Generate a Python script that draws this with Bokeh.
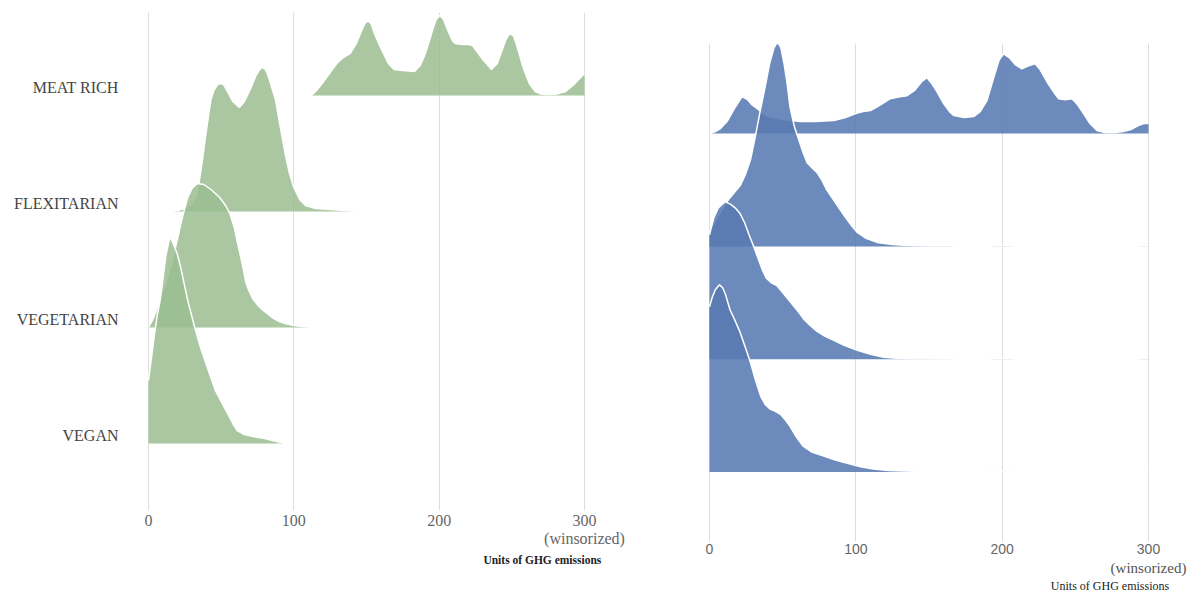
import numpy as np
from bokeh.plotting import figure
from bokeh.layouts import row
from bokeh.models import Range1d, FixedTicker, LinearAxis
from bokeh.embed import file_html
from bokeh.resources import INLINE

# ---------------------------------------------------------------------------
# Data: diet groups (bottom row first) and x-axis ticks
# ---------------------------------------------------------------------------
diets = ["VEGAN", "VEGETARIAN", "FLEXITARIAN", "MEAT RICH"]
x_ticks = [0, 100, 200, 300]
x_tick_labels = ["0", "100", "200", "300"]
winsor_note = "(winsorized)"
x_title = "Units of GHG emissions"

# Left panel (green): density of emissions per diet, relative units
green_vegan_x = [0, 2, 4, 6, 8, 10, 12, 14.7, 17, 19.7, 22, 24.5, 27, 31.8, 36, 40, 46, 50,
                 54, 58, 61, 66, 72, 80, 88, 94]
green_vegan_d = [63, 85, 108, 128, 143, 165, 188, 207, 200, 190, 177, 160, 143, 116, 95, 78, 53,
                 42, 31, 20, 13, 9, 7, 5, 2, 0]

green_vegetarian_x = [0, 3, 5, 8, 12, 16, 19.7, 22, 24, 27, 30, 33.6, 38, 43, 49, 53, 56, 59,
                      62, 65, 67, 69, 72, 76, 79, 85, 90, 94, 100, 106, 113]
green_vegetarian_d = [0, 8, 15, 30, 45, 65, 87, 102, 114, 130, 139, 144, 143, 138, 130, 122,
                      114, 100, 80, 60, 45, 37, 28, 21, 17, 10, 6, 4, 2, 1, 0]

green_flexitarian_x = [15, 20, 25, 30, 33, 35, 37, 39, 41.5, 43, 45, 47.5, 50, 52, 55, 58, 62.5,
                       66, 70, 74, 76, 78, 80, 82, 84, 87.5, 90, 94, 97, 100, 104, 108, 115, 125,
                       135, 145]
green_flexitarian_d = [0, 1, 3, 8, 16, 31, 50, 72, 98, 112, 121, 127, 128, 126, 118, 110, 104,
                       110, 122, 136, 141, 144, 143, 137, 128, 111, 90, 58, 38, 24, 12, 6, 3, 2,
                       1, 0]

green_meat_x = [112, 115, 119, 124, 129.5, 134, 138.7, 143, 147, 149, 151, 153, 156, 159, 161,
                165, 169, 175, 183, 187, 190, 192.5, 196, 198, 200.4, 203, 206, 209, 211, 216,
                220, 223, 225, 230, 236, 240, 244, 246, 248.5, 251, 253, 255, 258, 262, 266, 270,
                274, 280, 287, 292, 296, 300]
green_meat_d = [0, 4, 11, 21, 32, 38, 42, 52, 66, 72, 75, 72, 60, 50, 44, 32, 26, 25, 24, 30, 40,
                51, 68, 76, 80, 76, 65, 55, 52, 51, 51, 50, 46, 36, 26, 32, 48, 56, 62, 60, 52,
                42, 27, 12, 4, 1.5, 1, 1.2, 4, 10, 16, 22]

# Right panel (blue): density of emissions per diet, relative units
blue_vegan_x = [0, 2, 4, 6.8, 9, 11, 14, 17.5, 21, 24.5, 28, 31.5, 35, 38, 41.7, 45, 48.5, 52,
                55, 59, 64, 70, 78, 86, 96, 104, 112, 122, 133, 150, 165, 172, 188, 195, 200,
                206, 215, 290, 296, 300]
blue_vegan_d = [166, 176, 183, 188, 185, 178, 163, 152, 140, 125, 110, 92, 76, 68, 63, 61, 58,
                52, 46, 36, 26, 20, 16, 12, 8, 5, 3, 1.5, 1, 0.6, 0.4, 0, 0, 0.4, 0.8, 0.4, 0,
                0, 0.6, 0.8]

blue_vegetarian_x = [0, 1, 3, 6, 10.5, 14, 17.5, 21, 24, 27, 30, 33, 36, 39, 42, 46, 50, 55,
                     60, 64, 68, 73.5, 79, 85, 92, 101, 110, 119, 128, 140, 165, 175, 190, 196,
                     200, 205, 212, 290, 296, 300]
blue_vegetarian_d = [125, 131, 142, 152, 158, 156, 152, 146, 137, 125, 114, 102, 90, 81, 77, 74,
                     67, 58, 49, 41, 35, 28, 23, 19, 14, 9, 5, 2, 1, 0.5, 0.3, 0, 0, 0.5, 0.8,
                     0.5, 0, 0, 0.5, 0.8]

blue_flexitarian_x = [0, 5, 9, 13, 17, 21, 24.5, 28, 31, 34.8, 38, 41, 44, 45.5, 46.7, 48, 49,
                      51, 53, 55, 58, 61, 64, 66.7, 70, 73.5, 77, 80, 86, 92, 97, 101, 107, 114.5,
                      125, 135, 150, 165, 175, 188, 195, 200, 205, 212, 290, 295, 300]
blue_flexitarian_d = [15, 28, 38, 47, 54, 61, 72, 87, 108, 137, 160, 183, 199, 203, 204, 202,
                      198, 183, 164, 140, 120, 107, 94, 84, 79, 74, 66, 57, 44, 31, 21, 14, 8, 4,
                      2, 1, 0.5, 0.3, 0, 0, 0.4, 0.7, 0.4, 0, 0, 0.4, 0.5]

blue_meat_x = [0, 4, 7.5, 12, 17, 22.3, 26, 29, 32.6, 37, 40, 50, 62, 72, 85, 93, 100, 105, 110,
               116, 123.6, 130, 135, 140, 145, 148.6, 152, 155, 160, 164, 167, 174, 180.5, 185,
               189.6, 194, 198, 201, 205, 209, 213.5, 218, 222.6, 226, 230.6, 235, 238.6, 243,
               247.7, 251, 255.6, 260, 264.7, 270, 276, 283, 288, 293, 297, 300]
blue_meat_d = [0, 2, 5, 12, 25, 37, 34, 29, 25, 20, 17, 14, 12, 12, 13, 16, 20, 22, 23, 28, 35,
               37, 38, 43, 52, 56, 50, 43, 30, 22, 18, 16, 17, 22, 33, 55, 74, 80, 76, 69, 65,
               68, 70, 64, 52, 42, 35, 34, 35, 30, 20, 10, 3, 1, 0.8, 2, 4, 8, 10, 10]

green_ridges = [(green_vegan_x, green_vegan_d), (green_vegetarian_x, green_vegetarian_d),
                (green_flexitarian_x, green_flexitarian_d), (green_meat_x, green_meat_d)]
blue_ridges = [(blue_vegan_x, blue_vegan_d), (blue_vegetarian_x, blue_vegetarian_d),
               (blue_flexitarian_x, blue_flexitarian_d), (blue_meat_x, blue_meat_d)]

# ---------------------------------------------------------------------------
# Styling
# ---------------------------------------------------------------------------
SERIF = "Liberation Serif"
SANS = "Liberation Sans"
GRID = "#dddddd"


def bare_axis(axis):
    axis.axis_line_color = None
    axis.major_tick_line_color = None
    axis.minor_tick_line_color = None
    axis.major_tick_out = 0
    axis.major_tick_in = 0


def note_axis(p, at, text, standoff, font, size, color, style="normal"):
    """A tick-less axis under the main one that carries a single text line."""
    ax = LinearAxis(ticker=FixedTicker(ticks=[at]), major_label_overrides={at: text})
    bare_axis(ax)
    ax.major_label_standoff = standoff
    ax.major_label_text_font = font
    ax.major_label_text_font_size = size
    ax.major_label_text_font_style = style
    ax.major_label_text_color = color
    p.add_layout(ax, "below")


def make_panel(width, height, border, x_zero_px, x_px_per_unit, row_px, first_base_px,
               ridges, color, alpha, tick_font, tick_size, tick_standoff, show_labels):
    left, right, top, bottom = border
    frame_w = width - left - right
    frame_h = height - top - bottom
    x0 = (left - x_zero_px) / x_px_per_unit
    x1 = x0 + frame_w / x_px_per_unit
    # y in units of row spacing, bottom row baseline at 0
    y0 = -(height - bottom - first_base_px) / row_px
    y1 = y0 + frame_h / row_px

    p = figure(width=width, height=height, output_backend="svg", toolbar_location=None,
               x_range=Range1d(x0, x1), y_range=Range1d(y0, y1),
               min_border_left=left, min_border_right=right,
               min_border_top=top, min_border_bottom=bottom)
    if "frame_align" in p.properties():
        p.frame_align = False
    p.outline_line_color = None
    p.background_fill_color = "white"
    p.border_fill_color = "white"

    p.xgrid.ticker = FixedTicker(ticks=x_ticks)
    p.xgrid.grid_line_color = GRID
    p.xgrid.grid_line_width = 1
    p.ygrid.grid_line_color = None

    xa = p.xaxis[0]
    xa.ticker = FixedTicker(ticks=x_ticks)
    xa.major_label_overrides = {t: s for t, s in zip(x_ticks, x_tick_labels)}
    bare_axis(xa)
    xa.major_label_standoff = tick_standoff
    xa.major_label_text_font = tick_font
    xa.major_label_text_font_size = tick_size
    xa.major_label_text_color = "#666666"

    ya = p.yaxis[0]
    if show_labels:
        lift = 8 / row_px
        ticks = [i + lift for i in range(len(diets))]
        ya.ticker = FixedTicker(ticks=ticks)
        ya.major_label_overrides = {t: d for t, d in zip(ticks, diets)}
        bare_axis(ya)
        ya.major_label_standoff = 12
        ya.major_label_text_font = SERIF
        ya.major_label_text_font_size = "16px"
        ya.major_label_text_color = "#444444"
    else:
        ya.visible = False

    # back row first so the lower rows overlap it
    for i in reversed(range(len(ridges))):
        xs, ds = ridges[i]
        xs = np.asarray(xs, dtype=float)
        top_y = i + np.asarray(ds, dtype=float) / row_px
        base = np.full_like(xs, float(i))
        p.patch(np.concatenate([xs, xs[::-1]]), np.concatenate([top_y, base[::-1]]),
                fill_color=color, fill_alpha=alpha, line_color=None)
        p.line(xs, top_y, line_color="white", line_width=1.5)

    return p


# Left panel
left_p = make_panel(
    width=640, height=595, border=(130, 20, 12, 85),
    x_zero_px=148, x_px_per_unit=436 / 300, row_px=116, first_base_px=443,
    ridges=green_ridges, color="#9bbd92", alpha=0.85,
    tick_font=SERIF, tick_size="16px", tick_standoff=4, show_labels=True)
note_axis(left_p, x_ticks[-1], winsor_note, 1, SERIF, "16px", "#666666")
note_axis(left_p, 271, x_title, 4, SERIF, "11.5px", "#222222", style="bold")

# Right panel
right_p = make_panel(
    width=562, height=595, border=(50, 20, 43, 52),
    x_zero_px=69, x_px_per_unit=439 / 300, row_px=113.3, first_base_px=473.3,
    ridges=blue_ridges, color="#587ab2", alpha=0.88,
    tick_font=SANS, tick_size="14px", tick_standoff=2, show_labels=False)
note_axis(right_p, x_ticks[-1], winsor_note, 3, SERIF, "15px", "#555555")
note_axis(right_p, 273.7, x_title, 0, SERIF, "12px", "#222222")

layout = row(left_p, right_p)
open("out.html", "w").write(file_html(layout, INLINE))
